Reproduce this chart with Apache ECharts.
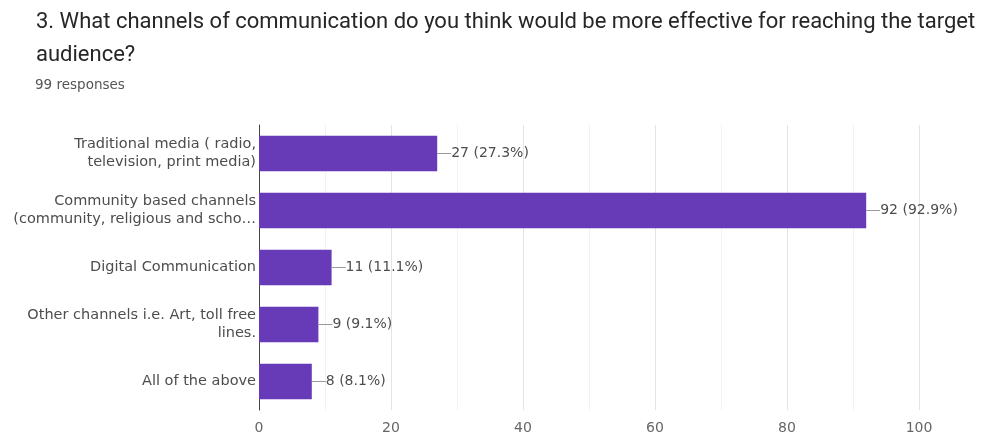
<!DOCTYPE html>
<html>
<head>
<meta charset="utf-8">
<script src="https://cdn.jsdelivr.net/npm/echarts@6/dist/echarts.min.js"></script>
<style>
  html, body { margin: 0; padding: 0; background: #fff; }
  #chart { width: 988px; height: 437px; }
</style>
</head>
<body>
<div id="chart"></div>
<script>
// Survey question and answer data
const questionTitle = '3. What channels of communication do you think would be more effective for reaching the target\naudience?';
const responsesNote = '99 responses';
const categories = [
  'Traditional media ( radio,\ntelevision, print media)',
  'Community based channels\n(community, religious and scho…',
  'Digital Communication',
  'Other channels i.e. Art, toll free\nlines.',
  'All of the above'
];
const counts = [27, 92, 11, 9, 8];
const percents = ['27.3%', '92.9%', '11.1%', '9.1%', '8.1%'];
const xTicks = [0, 20, 40, 60, 80, 100];

const bodyFont = 'DejaVu Sans';
const chart = echarts.init(document.getElementById('chart'));

chart.setOption({
  animation: false,
  title: [
    {
      text: questionTitle,
      left: 36, top: 6, padding: 0,
      textStyle: { fontFamily: 'Roboto', fontSize: 22, fontWeight: 'normal', color: '#262626', lineHeight: 33 }
    },
    {
      text: responsesNote,
      left: 35, top: 78, padding: 0,
      textStyle: { fontFamily: bodyFont, fontSize: 13.5, fontWeight: 'normal', color: '#555' }
    }
  ],
  grid: { left: 259, right: 69, top: 125, bottom: 27, containLabel: false },
  xAxis: {
    type: 'value',
    min: xTicks[0],
    max: xTicks[xTicks.length - 1],
    interval: 20,
    axisLine: { show: false },
    axisTick: { show: false },
    axisLabel: { color: '#666', fontFamily: bodyFont, fontSize: 14, margin: 11 },
    splitLine: { show: true, lineStyle: { color: '#e4e4e4', width: 1 } },
    minorSplitLine: { show: true, lineStyle: { color: '#f2f2f2', width: 1 } },
    minorTick: { show: false, splitNumber: 2 }
  },
  yAxis: {
    type: 'category',
    inverse: true,
    data: categories,
    axisLine: { show: true, lineStyle: { color: '#444', width: 1 } },
    axisTick: { show: false },
    axisLabel: { color: '#4d4d4d', fontFamily: bodyFont, fontSize: 14.5, lineHeight: 18, margin: 3, align: 'right' }
  },
  series: [{
    type: 'bar',
    data: counts,
    barCategoryGap: '38%',
    itemStyle: { color: '#673ab7' },
    label: {
      show: true,
      position: 'right',
      distance: 0,
      formatter: p => '{ln|}{v|' + counts[p.dataIndex] + ' (' + percents[p.dataIndex] + ')}',
      rich: {
        ln: { width: 14, height: 1, backgroundColor: '#9a9a9a' },
        v: { color: '#4d4d4d', fontFamily: bodyFont, fontSize: 14 }
      }
    }
  }]
});
</script>
</body>
</html>
